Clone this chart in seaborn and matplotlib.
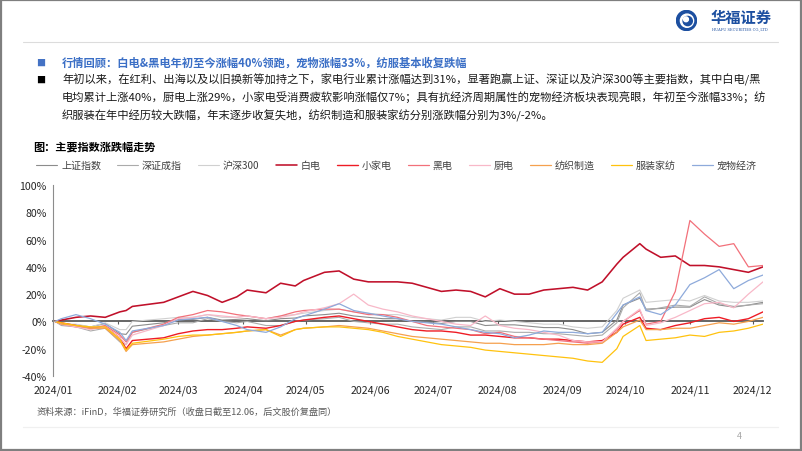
import matplotlib
matplotlib.use('Agg')
import matplotlib.pyplot as plt
import seaborn as sns
import pandas as pd
from matplotlib.patches import Rectangle, Circle
from matplotlib.lines import Line2D

sns.set_style('white')
plt.rcParams['font.family'] = ['Noto Sans CJK SC', 'DejaVu Sans']
plt.rcParams['axes.unicode_minus'] = False

# ---------------- data ----------------
dates = ['2024-01-02', '2024-01-05', '2024-01-12', '2024-01-19', '2024-01-26',
         '2024-02-02', '2024-02-05', '2024-02-08', '2024-02-23',
         '2024-03-01', '2024-03-08', '2024-03-15', '2024-03-22', '2024-03-29',
         '2024-04-03', '2024-04-12', '2024-04-19', '2024-04-26', '2024-04-30',
         '2024-05-10', '2024-05-17', '2024-05-24', '2024-05-31',
         '2024-06-07', '2024-06-14', '2024-06-21', '2024-06-28',
         '2024-07-05', '2024-07-12', '2024-07-19', '2024-07-26',
         '2024-08-02', '2024-08-09', '2024-08-16', '2024-08-23', '2024-08-30',
         '2024-09-06', '2024-09-13', '2024-09-20', '2024-09-27', '2024-09-30',
         '2024-10-08', '2024-10-11', '2024-10-18', '2024-10-25',
         '2024-11-01', '2024-11-08', '2024-11-15', '2024-11-22', '2024-11-29',
         '2024-12-06']

sh_index = [0, -2, -2.5, -4, -1.5, -9, -9.5, -3.5, -1, 1.5, 1.5, 3, 1, 1.5, 2, 0.5, 2, 2.5, 4,
            5, 6, 4, 3, 2, 2, 0, -0.5, -1.5, 0, 0, -3, -2.5, -2.5, -3.5, -4.5, -4.5,
            -6, -9, -8, 1, 12, 17, 9, 9.5, 10.5, 10.5, 16, 12, 10.5, 12, 14]
sz_index = [0, -3, -4, -7, -5, -15, -17, -8, -3, -1, -1, 2, 0, -1, 0, -3, -3, 0, 1,
            2, 3, 0, -1, -2, -2, -4, -5, -6, -4, -4, -7, -7, -8, -8, -9, -9,
            -10, -11, -10, -1, 10, 21, 8, 10, 12, 11, 18, 13, 11, 12, 13]
hs300 = [0, -2, -2, -4, -1, -6, -6, 0, 2, 3, 3, 5, 3, 3, 4, 2, 4, 5, 6,
         8, 9, 7, 6, 5, 5, 3, 2, 1, 3, 3, 0, 1, 0, -1, -2, -2,
         -4, -5, -4, 8, 17, 23, 14, 15, 16, 15, 19, 15, 14, 14, 15]
white_goods = [0, 1, 3, 4, 3, 7, 8, 11, 14, 18, 22, 19, 14, 18, 23, 21, 28, 26, 30,
               36, 37, 31, 29, 29, 29, 28, 25, 22, 23, 22, 18, 24, 20, 20, 23, 24,
               25, 23, 29, 42, 47, 57, 53, 47, 48, 41, 41, 40, 38, 36, 40]
small_appl = [0, -1, -3, -5, -4, -12, -20, -14, -12, -9, -7, -6, -6, -5, -4, -5, -3, 0, 1,
              3, 4, 2, 0, -2, -4, -6, -7, -7, -8, -10, -10, -11, -12, -12, -13, -13,
              -14, -15, -14, -8, -2, 3, -5, -6, -3, -1, 2, 3, 0, 2, 7]
black_goods = [0, -2, -4, -5, -3, -10, -15, -8, -2, 3, 5, 8, 7, 5, 4, 2, 4, 7, 8,
               9, 9, 7, 5, 5, 3, 0, -3, -4, -5, -6, -9, -8, -11, -12, -13, -14,
               -15, -16, -15, -6, 0, 8, -2, 0, 22, 74, 64, 55, 57, 40, 41]
kitchen = [0, -2, -4, -6, -4, -12, -17, -10, -3, 2, 3, 5, 4, 3, 4, 2, 3, 5, 7,
           10, 13, 20, 12, 9, 7, 4, 2, 0, -2, -3, 4, -3, -5, -6, -8, -10,
           -14, -15, -15, -5, 0, 9, -3, -1, 3, 8, 13, 14, 10, 20, 29]
textile = [0, -2, -3, -5, -5, -14, -22, -17, -15, -13, -11, -10, -9, -8, -7, -6, -10, -6, -5,
           -4, -3, -4, -5, -7, -9, -11, -12, -13, -14, -15, -16, -16, -17, -17, -17, -16,
           -17, -17, -16, -8, -4, 1, -6, -6, -5, -5, -3, -1, -2, 0, 3]
apparel = [0, -1, -3, -4, -4, -13, -21, -16, -13, -11, -10, -10, -9, -8, -7, -6, -11, -6, -5,
           -4, -4, -5, -6, -8, -11, -13, -15, -17, -18, -19, -21, -22, -23, -24, -25, -26,
           -27, -29, -30, -20, -11, -3, -14, -13, -12, -10, -11, -8, -7, -5, -2]
pet = [0, 2, 5, 2, -2, -8, -14, -7, -3, 1, 2, 3, 0, -3, -6, -8, -4, 2, 4,
       9, 13, 8, 6, 4, 2, 0, -1, -2, -4, -6, -8, -9, -12, -10, -7, -8,
       -8, -9, -8, 6, 12, 18, 8, 5, 12, 27, 32, 38, 24, 30, 34]

series_names = ['上证指数', '深证成指', '沪深300', '白电', '小家电',
                '黑电', '厨电', '纺织制造', '服装家纺', '宠物经济']
series_values = [sh_index, sz_index, hs300, white_goods, small_appl,
                 black_goods, kitchen, textile, apparel, pet]
series_colors = ['#8c8c8c', '#ababab', '#d0d0d0', '#c0102a', '#ee1c25',
                 '#f2707a', '#f8b8c8', '#f5a04e', '#ffc20e', '#8eaadb']
series_widths = [0.8, 0.8, 0.8, 1.15, 1.0, 0.9, 0.9, 0.9, 0.9, 0.9]

month_ticks = ['2024-%02d-01' % m for m in range(1, 13)]
month_labels = ['2024/%02d' % m for m in range(1, 13)]
y_ticks = [-40, -20, 0, 20, 40, 60, 80, 100]
y_labels = ['%d%%' % v for v in y_ticks]

title_text = '行情回顾：白电&黑电年初至今涨幅40%领跑，宠物涨幅33%，纺服基本收复跌幅'
body_lines = ['年初以来，在红利、出海以及以旧换新等加持之下，家电行业累计涨幅达到31%，显著跑赢上证、深证以及沪深300等主要指数，其中白电/黑',
              '电均累计上涨40%，厨电上涨29%，小家电受消费疲软影响涨幅仅7%；具有抗经济周期属性的宠物经济板块表现亮眼，年初至今涨幅33%；纺',
              '织服装在年中经历较大跌幅，年末逐步收复失地，纺织制造和服装家纺分别涨跌幅分别为3%/-2%。']
chart_title = '图：主要指数涨跌幅走势'
source_text = '资料来源：iFinD，华福证券研究所（收盘日截至12.06，后文股价复盘同）'

# ---------------- figure ----------------
W, H = 802, 452
fig = plt.figure(figsize=(W / 100, H / 100), dpi=100)
fig.patch.set_facecolor('white')


def fx(x):
    return x / W


def fy(y):
    return 1 - y / H


ax = fig.add_axes([fx(53), fy(377), fx(710), 191 / H])
ax.set_facecolor('white')

dt = pd.to_datetime(dates)
for name, vals, col, lw in zip(series_names, series_values, series_colors, series_widths):
    df = pd.DataFrame({'date': dt, 'value': vals})
    sns.lineplot(data=df, x='date', y='value', ax=ax, color=col, linewidth=lw,
                 label=name, errorbar=None, sort=False)

ax.set_xlim(pd.Timestamp('2024-01-01'), pd.Timestamp('2024-12-06'))
ax.set_ylim(-40, 100)
ax.set_xlabel('')
ax.set_ylabel('')
ax.set_xticks(pd.to_datetime(month_ticks))
ax.set_xticklabels(month_labels)
ax.set_yticks(y_ticks)
ax.set_yticklabels(y_labels)
for s in ['top', 'right', 'bottom']:
    ax.spines[s].set_visible(False)
ax.spines['left'].set_color('#8c8c8c')
ax.spines['left'].set_linewidth(0.8)
ax.tick_params(axis='x', length=0, pad=6, labelsize=7.6, labelcolor='#262626')
ax.tick_params(axis='y', length=3, width=0.8, color='#8c8c8c', pad=1.5,
               labelsize=7.6, labelcolor='#262626')

# zero axis line with month ticks
sec = ax.secondary_xaxis(40 / 140)
sec.set_xticks(pd.to_datetime(month_ticks))
sec.tick_params(axis='x', length=2.5, width=0.8, color='#595959', labelbottom=False)
sec.spines['bottom'].set_color('#595959')
sec.spines['bottom'].set_linewidth(1.3)

# legend
handles, labels = ax.get_legend_handles_labels()
ax.legend(handles, labels, loc='center left', bbox_to_anchor=(fx(36), fy(166)),
          bbox_transform=fig.transFigure, ncol=10, frameon=False, fontsize=7.2,
          handlelength=2.1, handletextpad=0.4, columnspacing=1.6,
          borderpad=0, borderaxespad=0, labelcolor='#404040')

# ---------------- slide decorations ----------------
fig.add_artist(Line2D([fx(23), fx(778)], [fy(43), fy(43)], color='#dcdcdc', lw=0.8))
fig.add_artist(Line2D([fx(23), fx(778)], [fy(428), fy(428)], color='#f0f0f0', lw=0.9))
fig.add_artist(Rectangle((0.001, 0.002), 0.998, 0.996, transform=fig.transFigure,
                         fill=False, edgecolor='#7f7f7f', lw=1.6))

# logo
lax = fig.add_axes([fx(676), fy(32), fx(21), 21 / H])
lax.set_xlim(-1.05, 1.05)
lax.set_ylim(-1.05, 1.05)
lax.set_aspect('equal')
lax.axis('off')
lax.add_patch(Circle((0, 0), 1.0, color='#1c4fa0'))
lax.add_patch(Circle((0.05, -0.02), 0.66, color='white'))
lax.add_patch(Circle((0.12, -0.05), 0.46, color='#1c4fa0'))
lax.add_patch(Circle((-0.05, 0.12), 0.24, color='white'))
fig.text(fx(711), fy(18), '华福证券', fontsize=11, fontweight='bold', color='#1c4fa0',
         va='center', ha='left')
fig.text(fx(712), fy(29.5), 'HUAFU SECURITIES CO.,LTD', fontsize=2.6, color='#1c4fa0',
         va='center', ha='left', family=['DejaVu Serif'])

# bullets & text
fig.text(fx(36), fy(63), '■', fontsize=6.5, color='#4472c4', va='center', ha='left')
fig.text(fx(62), fy(63), title_text, fontsize=8.1, fontweight='bold', color='#3b6fc6',
         va='center', ha='left')
fig.text(fx(36), fy(80), '■', fontsize=6.5, color='#000000', va='center', ha='left')
for i, line in enumerate(body_lines):
    fig.text(fx(62), fy(80 + 18 * i), line, fontsize=8.12, color='#1a1a1a',
             va='center', ha='left')

fig.text(fx(33), fy(147), chart_title, fontsize=8, fontweight='bold', color='#000000',
         va='center', ha='left')
fig.text(fx(37), fy(412), source_text, fontsize=6.6, color='#595959', style='italic',
         va='center', ha='left')
fig.text(fx(737), fy(437), '4', fontsize=6.5, color='#a6a6a6', va='center', ha='left')

fig.savefig('out.png', dpi=100, facecolor='white')
